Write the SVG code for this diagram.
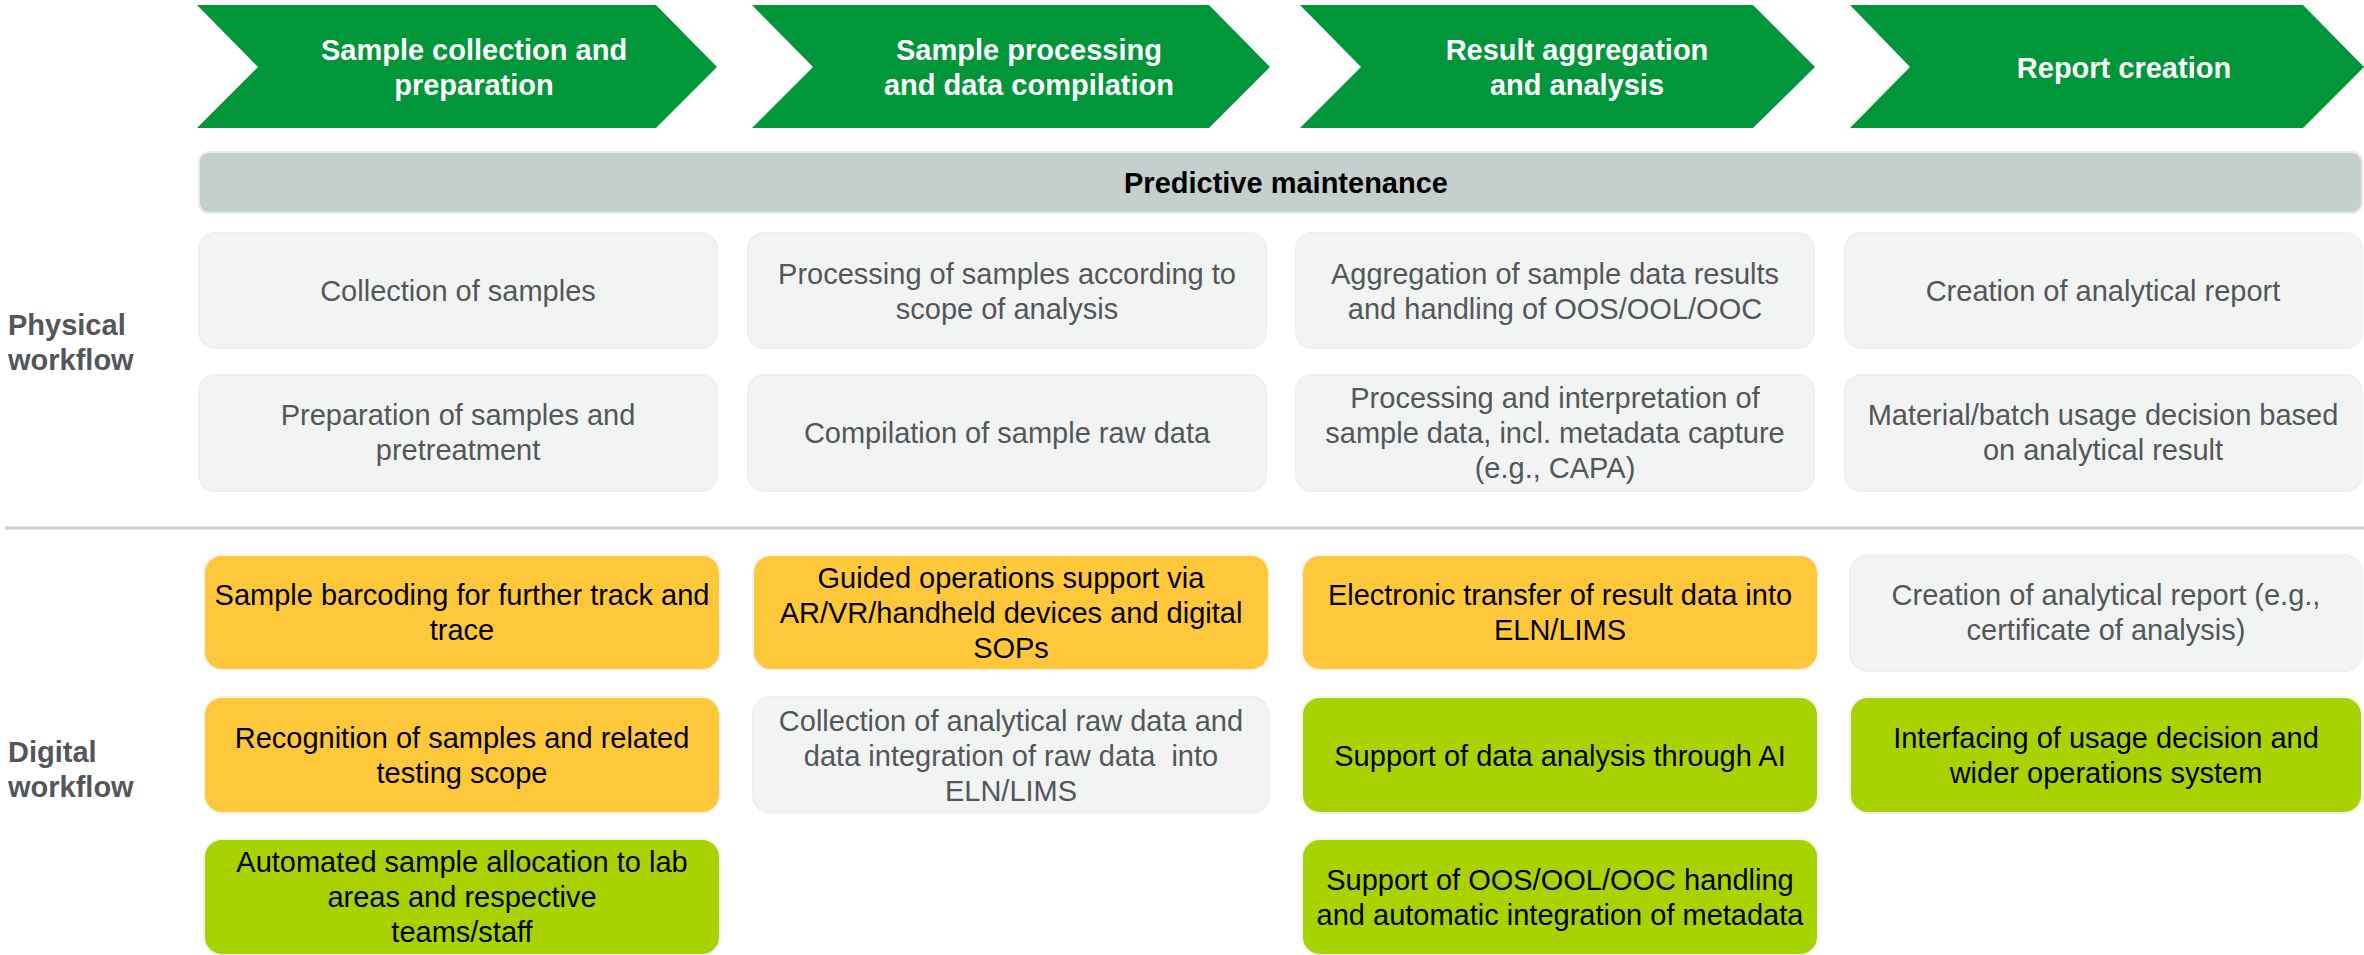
<svg xmlns="http://www.w3.org/2000/svg" width="2364" height="955" viewBox="0 0 2364 955">
  <style>
    text { font-family: "Liberation Sans", Arial, sans-serif; font-size: 29px; text-anchor: middle; }
    .phase { fill: #009639; }
    .phase-label { fill: #ffffff; font-weight: bold; }
    .bar { fill: #c5cfcd; stroke: #e8ecea; stroke-width: 2; }
    .bar-label { fill: #000000; font-weight: bold; }
    .soft { fill: #f2f4f3; stroke: #eef0ef; stroke-width: 2; }
    .amber { fill: #ffc83a; stroke: #f3f3f0; stroke-width: 2; }
    .lime { fill: #a9d300; stroke: #f3f3f0; stroke-width: 2; }
    .grey-text { fill: #53565a; }
    .dark-text { fill: #000000; }
    .lane-label { fill: #53565a; font-weight: bold; text-anchor: start; }
    .divider { stroke: #c9d3cf; stroke-width: 3; }
  </style>

  <!-- process phases -->
  <g id="phase-collection">
    <polygon class="phase" points="197,5 656,5 717,67 656,128 197,128 258,67"/>
    <text class="phase-label" x="474" y="60">Sample collection and</text>
    <text class="phase-label" x="474" y="95">preparation</text>
  </g>
  <g id="phase-processing">
    <polygon class="phase" points="752,5 1209,5 1270,67 1209,128 752,128 813,67"/>
    <text class="phase-label" x="1029" y="60">Sample processing</text>
    <text class="phase-label" x="1029" y="95">and data compilation</text>
  </g>
  <g id="phase-aggregation">
    <polygon class="phase" points="1300,5 1753,5 1815,67 1753,128 1300,128 1361,67"/>
    <text class="phase-label" x="1577" y="60">Result aggregation</text>
    <text class="phase-label" x="1577" y="95">and analysis</text>
  </g>
  <g id="phase-report">
    <polygon class="phase" points="1850,5 2303,5 2364,67 2303,128 1850,128 1910,67"/>
    <text class="phase-label" x="2124" y="78">Report creation</text>
  </g>

  <!-- cross-phase bar -->
  <g id="predictive-maintenance">
    <rect class="bar" x="199" y="152" width="2163" height="61" rx="10"/>
    <text class="bar-label" x="1286" y="193">Predictive maintenance</text>
  </g>

  <!-- lane labels -->
  <g id="lane-physical">
    <text class="lane-label" x="8" y="335">Physical</text>
    <text class="lane-label" x="8" y="370">workflow</text>
  </g>
  <g id="lane-digital">
    <text class="lane-label" x="8" y="762">Digital</text>
    <text class="lane-label" x="8" y="797">workflow</text>
  </g>

  <!-- physical workflow -->
  <g id="phys-collection">
    <rect class="soft" x="199" y="233" width="518" height="115" rx="16"/>
    <text class="grey-text" x="458" y="301">Collection of samples</text>
  </g>
  <g id="phys-preparation">
    <rect class="soft" x="199" y="375" width="518" height="116" rx="16"/>
    <text class="grey-text" x="458" y="425">Preparation of samples and</text>
    <text class="grey-text" x="458" y="460">pretreatment</text>
  </g>
  <g id="phys-processing">
    <rect class="soft" x="748" y="233" width="518" height="115" rx="16"/>
    <text class="grey-text" x="1007" y="284">Processing of samples according to</text>
    <text class="grey-text" x="1007" y="319">scope of analysis</text>
  </g>
  <g id="phys-compilation">
    <rect class="soft" x="748" y="375" width="518" height="116" rx="16"/>
    <text class="grey-text" x="1007" y="443">Compilation of sample raw data</text>
  </g>
  <g id="phys-aggregation">
    <rect class="soft" x="1296" y="233" width="518" height="115" rx="16"/>
    <text class="grey-text" x="1555" y="284">Aggregation of sample data results</text>
    <text class="grey-text" x="1555" y="319">and handling of OOS/OOL/OOC</text>
  </g>
  <g id="phys-interpretation">
    <rect class="soft" x="1296" y="375" width="518" height="116" rx="16"/>
    <text class="grey-text" x="1555" y="408">Processing and interpretation of</text>
    <text class="grey-text" x="1555" y="443">sample data, incl. metadata capture</text>
    <text class="grey-text" x="1555" y="478">(e.g., CAPA)</text>
  </g>
  <g id="phys-report">
    <rect class="soft" x="1845" y="233" width="517" height="115" rx="16"/>
    <text class="grey-text" x="2103" y="301">Creation of analytical report</text>
  </g>
  <g id="phys-decision">
    <rect class="soft" x="1845" y="375" width="517" height="116" rx="16"/>
    <text class="grey-text" x="2103" y="425">Material/batch usage decision based</text>
    <text class="grey-text" x="2103" y="460">on analytical result</text>
  </g>

  <!-- lane divider -->
  <g id="connectors">
    <line class="divider" x1="5" y1="528" x2="2364" y2="528"/>
  </g>

  <!-- digital workflow -->
  <g id="dig-barcoding">
    <rect class="amber" x="204" y="555" width="516" height="115" rx="18"/>
    <text class="dark-text" x="462" y="605">Sample barcoding for further track and</text>
    <text class="dark-text" x="462" y="640">trace</text>
  </g>
  <g id="dig-recognition">
    <rect class="amber" x="204" y="697" width="516" height="116" rx="18"/>
    <text class="dark-text" x="462" y="748">Recognition of samples and related</text>
    <text class="dark-text" x="462" y="783">testing scope</text>
  </g>
  <g id="dig-allocation">
    <rect class="lime" x="204" y="839" width="516" height="116" rx="18"/>
    <text class="dark-text" x="462" y="872">Automated sample allocation to lab</text>
    <text class="dark-text" x="462" y="907">areas and respective</text>
    <text class="dark-text" x="462" y="942">teams/staff</text>
  </g>
  <g id="dig-guided-ops">
    <rect class="amber" x="753" y="555" width="516" height="115" rx="18"/>
    <text class="dark-text" x="1011" y="588">Guided operations support via</text>
    <text class="dark-text" x="1011" y="623">AR/VR/handheld devices and digital</text>
    <text class="dark-text" x="1011" y="658">SOPs</text>
  </g>
  <g id="dig-raw-data">
    <rect class="soft" x="753" y="697" width="516" height="116" rx="18"/>
    <text class="grey-text" x="1011" y="731">Collection of analytical raw data and</text>
    <text class="grey-text" x="1011" y="766" xml:space="preserve">data integration of raw data  into</text>
    <text class="grey-text" x="1011" y="801">ELN/LIMS</text>
  </g>
  <g id="dig-transfer">
    <rect class="amber" x="1302" y="555" width="516" height="115" rx="18"/>
    <text class="dark-text" x="1560" y="605">Electronic transfer of result data into</text>
    <text class="dark-text" x="1560" y="640">ELN/LIMS</text>
  </g>
  <g id="dig-ai-analysis">
    <rect class="lime" x="1302" y="697" width="516" height="116" rx="18"/>
    <text class="dark-text" x="1560" y="766">Support of data analysis through AI</text>
  </g>
  <g id="dig-oos-support">
    <rect class="lime" x="1302" y="839" width="516" height="116" rx="18"/>
    <text class="dark-text" x="1560" y="890">Support of OOS/OOL/OOC handling</text>
    <text class="dark-text" x="1560" y="925">and automatic integration of metadata</text>
  </g>
  <g id="dig-report">
    <rect class="soft" x="1850" y="555" width="512" height="116" rx="18"/>
    <text class="grey-text" x="2106" y="605">Creation of analytical report (e.g.,</text>
    <text class="grey-text" x="2106" y="640">certificate of analysis)</text>
  </g>
  <g id="dig-interfacing">
    <rect class="lime" x="1850" y="697" width="512" height="116" rx="18"/>
    <text class="dark-text" x="2106" y="748">Interfacing of usage decision and</text>
    <text class="dark-text" x="2106" y="783">wider operations system</text>
  </g>
</svg>
